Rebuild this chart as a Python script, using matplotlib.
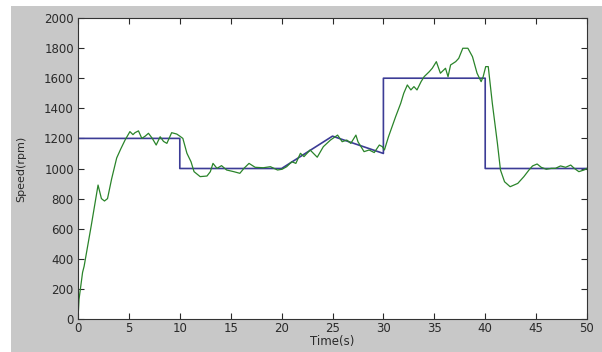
import matplotlib
matplotlib.use("Agg")
import matplotlib.pyplot as plt
from matplotlib.patches import Rectangle

# reference speed (blue)
t_ref = [0, 10, 10, 20, 25, 30, 30, 40, 40, 50]
speed_ref = [1200, 1200, 1000, 1000, 1215, 1100, 1600, 1600, 1000, 1000]

t_meas = [0, 0.1, 0.45, 0.6, 1.3, 1.97, 2.3, 2.6, 2.9, 3.3, 3.8, 4.2, 4.63, 5.1, 5.4,
          5.6, 5.94, 6.27, 6.6, 6.92, 7.3, 7.68, 8.07, 8.4, 8.73, 9.2, 9.7, 10.0, 10.3,
          10.7, 11.1, 11.4, 12.0, 12.67, 13.0, 13.26, 13.65, 14.1, 14.6, 15.3, 15.9,
          16.3, 16.8, 17.4, 18.2, 18.9, 19.6, 20.05, 20.5, 21.0, 21.4, 21.85, 22.2,
          22.8, 23.5, 24.1, 24.8, 25.5, 25.95, 26.4, 26.8, 27.3, 27.5, 28.1, 28.6,
          29.1, 29.6, 29.9, 30.1, 30.5, 31.2, 31.7, 32.0, 32.35, 32.7, 33.0, 33.3,
          33.7, 34.0, 34.5, 34.8, 35.2, 35.6, 36.1, 36.35, 36.6, 37.1, 37.4, 37.8,
          38.3, 38.75, 39.2, 39.6, 39.8, 40.05, 40.3, 40.7, 41.2, 41.5, 41.9, 42.45,
          43.2, 43.8, 44.3, 44.65, 45.1, 45.5, 46.0, 46.5, 46.9, 47.4, 47.9, 48.4,
          48.75, 49.2, 49.7, 50]
speed_meas = [0, 130, 310, 350, 620, 890, 800, 784, 800, 930, 1070, 1130, 1190, 1245,
              1225, 1238, 1250, 1200, 1215, 1234, 1200, 1156, 1211, 1180, 1167, 1238,
              1229, 1215, 1200, 1101, 1045, 979, 946, 950, 979, 1034, 1001, 1019, 990,
              979, 968, 1001, 1034, 1008, 1005, 1012, 990, 995, 1012, 1045, 1034, 1101,
              1079, 1123, 1075, 1145, 1189, 1222, 1178, 1189, 1167, 1222, 1178, 1112,
              1123, 1106, 1156, 1145, 1123, 1211, 1344, 1433, 1500, 1555, 1522, 1544,
              1522, 1577, 1610, 1643, 1666, 1710, 1633, 1666, 1610, 1688, 1710, 1732,
              1799, 1799, 1743, 1633, 1577, 1610, 1677, 1677, 1433, 1167, 990, 912,
              879, 901, 946, 990, 1017, 1030, 1008, 995, 1001, 1001, 1017, 1008, 1023,
              1001, 979, 990, 1001]

plt.rcParams['font.family'] = ['DejaVu Sans']

fig = plt.figure(figsize=(6.02, 3.52), dpi=100, facecolor='white')
# gray matlab-style figure background (white strip top and left)
fig.patches.append(Rectangle((11 / 602, 0), 1 - 11 / 602, 1 - 6 / 352,
                             transform=fig.transFigure, facecolor='#c8c8c8',
                             edgecolor='none', zorder=-10))

ax = fig.add_axes([78 / 602, 1 - 319 / 352, (587 - 78) / 602, (319 - 18) / 352])
ax.set_facecolor('white')

ax.plot(t_ref, speed_ref, color='#3c3c96', linewidth=1.2)
ax.plot(t_meas, speed_meas, color='#2a842a', linewidth=0.9)

ax.set_xlim(0, 50)
ax.set_ylim(0, 2000)
ax.set_xticks(range(0, 51, 5))
ax.set_yticks(range(0, 2001, 200))
ax.tick_params(direction='in', length=4, width=0.8, labelsize=8.5,
               top=True, right=True, colors='#2a2a2a', pad=3)
ax.tick_params(axis='x', pad=2)
for s in ax.spines.values():
    s.set_color('#333333')
    s.set_linewidth(0.8)

ax.set_xlabel("Time(s)", fontsize=8.5, labelpad=0, color='#2a2a2a')
ax.set_ylabel("Speed(rpm)", fontsize=8, labelpad=13, color='#2a2a2a')

plt.savefig("out.png", dpi=100)
